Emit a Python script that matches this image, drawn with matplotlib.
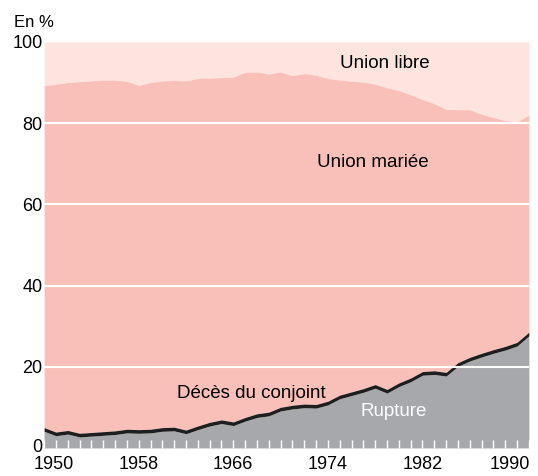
import matplotlib.pyplot as plt
import matplotlib.transforms as mtrans
import numpy as np

plt.rcParams['font.family'] = ['Liberation Sans', 'DejaVu Sans']

# years 1950 - 1991
years = np.arange(1950, 1992)

# top of the "deces" band (rupture + deces), in %
deces_top = [5.0, 3.9, 4.3, 3.6, 3.8, 4.0, 4.2, 4.6, 4.5, 4.6,
             5.0, 5.1, 4.4, 5.4, 6.3, 6.9, 6.4, 7.5, 8.4, 8.8,
             10.0, 10.5, 10.8, 10.7, 11.5, 13.0, 13.8, 14.6, 15.6, 14.4,
             16.0, 17.2, 18.8, 19.0, 18.6, 21.0, 22.3, 23.3, 24.2, 25.0,
             26.0, 28.5]
# thickness of the "deces du conjoint" band
deces = [0.9] * len(years)
# top of "union mariee" (below is married + deces + rupture)
mariee_top = [89.2, 89.6, 90.0, 90.2, 90.4, 90.6, 90.6, 90.3, 89.3, 90.0,
              90.4, 90.5, 90.4, 91.0, 91.1, 91.2, 91.3, 92.5, 92.6, 92.1,
              92.6, 91.7, 92.2, 91.8, 91.0, 90.6, 90.3, 90.1, 89.6, 88.7,
              88.0, 87.0, 85.8, 84.8, 83.4, 83.3, 83.3, 82.2, 81.4, 80.6,
              80.3, 82.0]

rupture = np.array(deces_top) - np.array(deces)
top = np.array(deces_top)
mar = np.array(mariee_top)

fig = plt.figure(figsize=(5.38, 4.76), dpi=100)
ax = fig.add_axes([0.082, 0.059, 0.901, 0.853])

ax.fill_between(years, mar, 100, color='#fde4df', lw=0)
ax.fill_between(years, top, mar, color='#f9c0b9', lw=0)
ax.fill_between(years, 0, rupture, color='#a7a8ac', lw=0)
ax.fill_between(years, rupture, top, color='#1e1e1e', lw=0)

ax.set_xlim(1950, 1991)
ax.set_ylim(0, 100)
for s in ax.spines.values():
    s.set_visible(False)

for yv in [20, 40, 60, 80]:
    ax.axhline(yv, color='white', lw=1.5, zorder=3)

ax.set_yticks([0, 20, 40, 60, 80, 100])
ax.set_xticks(np.arange(1950, 1992, 8))
ax.set_xticks(years, minor=True)
ax.tick_params(axis='y', length=0, pad=1, labelsize=13)
ax.tick_params(axis='x', which='both', direction='in', length=6, width=1,
               color='white', labelsize=13, pad=6)
ax.set_axisbelow(False)

# nudge a few labels like in the original
def nudge(lbl, dx, dy):
    lbl.set_transform(lbl.get_transform() +
                      mtrans.ScaledTranslation(dx / 72, dy / 72, fig.dpi_scale_trans))

xl = ax.get_xticklabels()
nudge(xl[0], 7, 0)
nudge(xl[-1], -5, 0)
nudge(ax.get_yticklabels()[0], 0, 2)

ax.text(-0.062, 1.03, 'En %', transform=ax.transAxes, fontsize=12,
        ha='left', va='bottom')

ax.text(1978.8, 94.8, 'Union libre', fontsize=13.5, ha='center', va='center')
ax.text(1977.8, 70.2, 'Union mariée', fontsize=13.5, ha='center', va='center')
ax.text(1967.5, 13.5, 'Décès du conjoint', fontsize=13.5, ha='center', va='center')
ax.text(1979.6, 9.0, 'Rupture', fontsize=13.5, ha='center', va='center',
        color='white')

fig.savefig('out.png', dpi=100)
